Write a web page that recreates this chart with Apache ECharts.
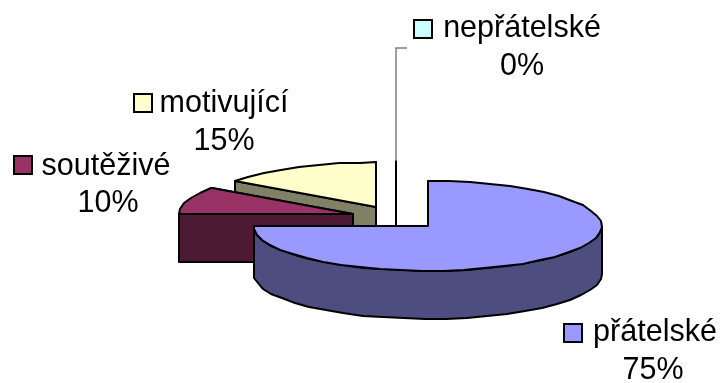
<!DOCTYPE html>
<html>
<head>
<meta charset="utf-8">
<style>
  html, body { margin: 0; padding: 0; background: #fff; }
  #chart { width: 722px; height: 383px; }
</style>
<script src="https://cdn.jsdelivr.net/npm/echarts@6/dist/echarts.min.js"></script>
</head>
<body>
<div id="chart"></div>
<script>
// Slices run clockwise from twelve o'clock.
const categories = ['přátelské', 'soutěživé', 'motivující', 'nepřátelské'];
const values = [75, 10, 15, 0];
const topColors = ['#9999FF', '#993366', '#FFFFCC', '#CCFFFF'];
const sideColors = ['#4D4D80', '#4D1A33', '#808066', '#668080'];

// Painter's order, back to front.
const drawOrder = [3, 2, 1, 0];

// Tilted disc layout.
const CENTER = [396, 217.7];
const RX = 174, RY = 45, DEPTH = 48, EXPLODE = 45, ARC_STEP = 7;

// Name label centre x, name y, percent y, percent centre x, key box left, key box top.
const labelX = [655, 106, 224, 522];
const nameY = [333, 167, 104, 29];
const percentX = [653, 108, 224, 522];
const percentY = [371, 204, 142, 67];
const keyX = [564, 14, 134, 414];
const keyY = [324, 156, 94, 20];
const KEY_SIZE = 18;
const FONT_SIZE = 30.5;

const total = values.reduce((a, b) => a + b, 0);
const rad = d => d * Math.PI / 180;

function sliceGeometry(i) {
  const before = values.slice(0, i).reduce((a, b) => a + b, 0);
  const start = before / total * 360;
  const end = (before + values[i]) / total * 360;
  const mid = rad((start + end) / 2);
  return {
    start, end,
    cx: CENTER[0] + EXPLODE * Math.sin(mid),
    cy: CENTER[1] - EXPLODE * (RY / RX) * Math.cos(mid)
  };
}

function rimPoint(g, deg, drop) {
  return [
    Math.round(g.cx + RX * Math.sin(rad(deg))),
    Math.round(g.cy - RY * Math.cos(rad(deg)) + (drop || 0))
  ];
}

function arc(g, from, to, drop) {
  const pts = [];
  for (let a = from; a < to; a += ARC_STEP) pts.push(rimPoint(g, a, drop));
  pts.push(rimPoint(g, to, drop));
  return pts;
}

const outline = { stroke: '#000', lineWidth: 2, lineJoin: 'round' };

function poly(points, fill) {
  return { type: 'polygon', shape: { points }, style: Object.assign({ fill }, outline), silent: true };
}

function renderSlice(params, api) {
  const i = drawOrder[params.dataIndex];
  const g = sliceGeometry(i);
  const apex = [Math.round(g.cx), Math.round(g.cy)];
  const apexLow = [apex[0], apex[1] + DEPTH];
  const children = [];

  // Radial cuts, the far one first.
  [g.end, g.start].forEach(a => {
    children.push(poly([apex, rimPoint(g, a), rimPoint(g, a, DEPTH), apexLow], sideColors[i]));
  });

  // Outer wall, only the part facing the viewer.
  const wallFrom = Math.max(g.start, 90), wallTo = Math.min(g.end, 270);
  if (wallTo > wallFrom) {
    children.push(poly(
      arc(g, wallFrom, wallTo, 0).concat(arc(g, wallFrom, wallTo, DEPTH).reverse()),
      sideColors[i]
    ));
  }

  // Top surface.
  children.push(poly([apex].concat(arc(g, g.start, g.end, 0)), topColors[i]));

  // A zero-sized slice gets a leader line up to its label.
  if (api.value(0) === 0) {
    const tip = rimPoint(g, g.start);
    children.push({
      type: 'polyline',
      shape: { points: [tip, [tip[0], keyY[i] + 28], [tip[0] + 11, keyY[i] + 28]] },
      style: { stroke: '#808080', lineWidth: 1.5, fill: null },
      silent: true
    });
  }

  // Legend key and label text.
  children.push({
    type: 'rect',
    shape: { x: keyX[i], y: keyY[i], width: KEY_SIZE, height: KEY_SIZE },
    style: { fill: topColors[i], stroke: '#000', lineWidth: 2 },
    silent: true
  });
  const font = { fontFamily: '"Liberation Sans", Arial, sans-serif', fontSize: FONT_SIZE, fill: '#000',
                 textAlign: 'center', textVerticalAlign: 'middle' };
  children.push({
    type: 'text', silent: true,
    style: Object.assign({ text: categories[i], x: labelX[i], y: nameY[i] }, font)
  });
  children.push({
    type: 'text', silent: true,
    style: Object.assign({ text: api.value(0) + '%', x: percentX[i], y: percentY[i] }, font)
  });

  return { type: 'group', children };
}

const chart = echarts.init(document.getElementById('chart'), null, { renderer: 'canvas' });
chart.setOption({
  backgroundColor: '#fff',
  animation: false,
  series: [{
    type: 'custom',
    coordinateSystem: 'none',
    renderItem: renderSlice,
    data: drawOrder.map(i => ({ name: categories[i], value: [values[i]] }))
  }]
});
</script>
</body>
</html>
